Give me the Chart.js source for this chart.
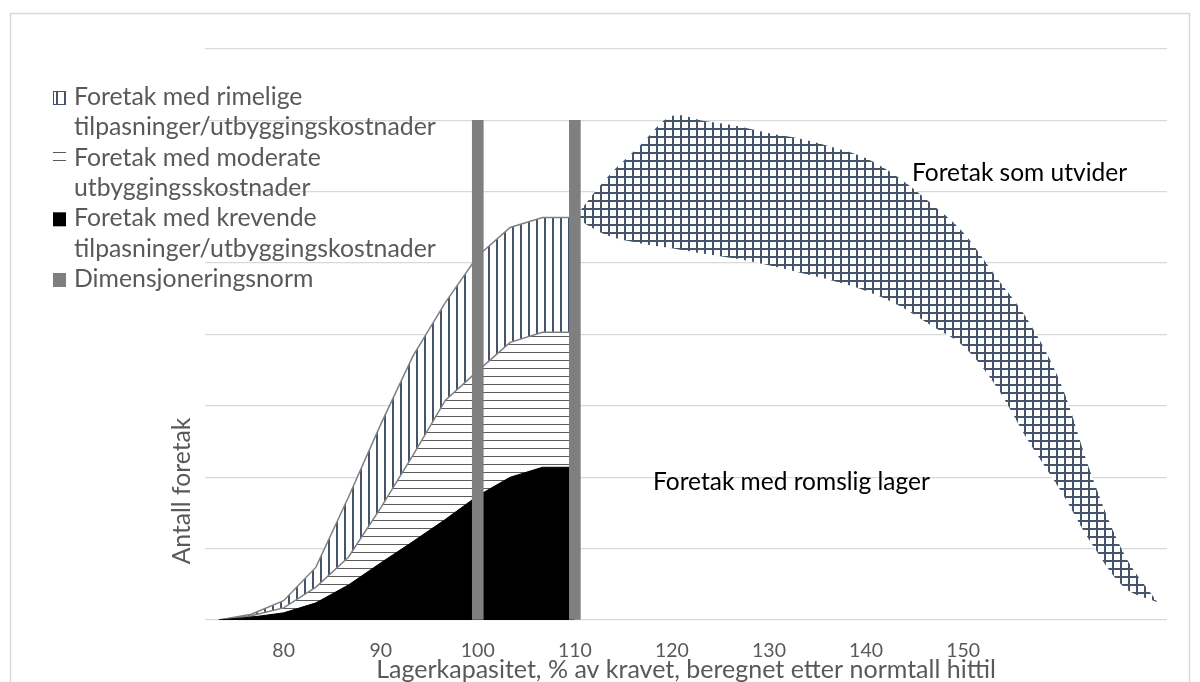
<!DOCTYPE html>
<html>
<head>
<meta charset="utf-8">
<title>Lagerkapasitet</title>
<script src="https://cdn.jsdelivr.net/npm/chart.js@4.4.1/dist/chart.umd.min.js"></script>
<style>
  html, body { margin: 0; padding: 0; background: #fff; overflow: hidden; }
  canvas { display: block; }
</style>
</head>
<body>
<canvas id="chart" width="1200" height="682"></canvas>
<script>
// Lagerkapasitet (% av kravet) langs x, antall foretak langs y.
const xTicks = [80, 90, 100, 110, 120, 130, 140, 150];

// Foretak under / rundt normen (stablet)
const xLeft     = [73.33, 76.67, 80, 83.33, 86.67, 90, 93.33, 96.67, 100, 103.33, 106.67, 110];
const krevende  = [0, 0.04, 0.10, 0.24, 0.49, 0.80, 1.10, 1.41, 1.74, 2.00, 2.14, 2.14];
const moderate  = [0, 0.02, 0.07, 0.22, 0.39, 0.77, 1.21, 1.67, 1.75, 1.89, 1.89, 1.89];
const rimelige  = [0, 0.02, 0.10, 0.28, 0.84, 1.17, 1.39, 1.37, 1.61, 1.61, 1.61, 1.61];

// Foretak over normen (stablet)
const xRight    = [110, 113.33, 116.67, 120, 123.33, 126.67, 130, 133.33, 136.67, 140, 143.33, 146.67, 150, 153.33, 156.67, 160, 163.33, 166.67, 170];
const romslig   = [5.64, 5.39, 5.28, 5.21, 5.13, 5.06, 4.97, 4.86, 4.75, 4.61, 4.41, 4.13, 3.84, 3.29, 2.52, 1.82, 1.05, 0.45, 0.25];
const utvider   = [0, 0.81, 1.36, 1.85, 1.86, 1.86, 1.85, 1.88, 1.87, 1.86, 1.79, 1.71, 1.59, 1.53, 1.68, 1.51, 0.94, 0.45, 0];

// Dimensjoneringsnorm
const normX     = [100, 110];
const normY     = [7, 7];

const seriesLabels = {
  krevende: 'Foretak med krevende tilpasninger/utbyggingskostnader',
  moderate: 'Foretak med moderate utbyggingsskostnader',
  rimelige: 'Foretak med rimelige tilpasninger/utbyggingskostnader',
  romslig:  'Foretak med romslig lager',
  utvider:  'Foretak som utvider',
  norm:     'Dimensjoneringsnorm'
};
const xTitle = 'Lagerkapasitet, % av kravet, beregnet etter normtall hittil';
const yTitle = 'Antall foretak';

const FAMILY = 'Lato, "Open Sans", "DejaVu Sans", sans-serif';
const TEXT_GREY = '#595959';

// font size that gives a string a given width
const measureCtx = document.createElement('canvas').getContext('2d');
function sizeFor(text, width) {
  measureCtx.font = '100px ' + FAMILY;
  return Math.round(1000 * width / measureCtx.measureText(text).width) / 10;
}
const legendSize = sizeFor('tilpasninger/utbyggingskostnader', 362);
const tickSize   = sizeFor('100', 34);
const titleSize  = sizeFor(xTitle, 619);
const yTitleSize = sizeFor(yTitle, 147);
const noteSize   = sizeFor(seriesLabels.utvider, 215);

const canvas = document.getElementById('chart');
const ctx = canvas.getContext('2d');

function makePattern(paint) {
  const tile = document.createElement('canvas');
  tile.width = 8; tile.height = 8;
  const g = tile.getContext('2d');
  g.fillStyle = '#ffffff';
  g.fillRect(0, 0, 8, 8);
  paint(g);
  return ctx.createPattern(tile, 'repeat');
}
const vertPattern  = makePattern(g => { g.fillStyle = '#44546a'; g.fillRect(0, 0, 2, 8); });
const horizPattern = makePattern(g => { g.fillStyle = '#5a5a5a'; g.fillRect(0, 0, 8, 1); });
const crossPattern = makePattern(g => { g.fillStyle = '#44546a'; g.fillRect(0, 0, 2, 8); g.fillRect(0, 0, 8, 2); });

const pts = (xs, ys) => xs.map((x, i) => ({ x, y: ys[i] }));

const datasets = [
  { label: seriesLabels.krevende, data: pts(xLeft, krevende), stack: 'under', fill: 'origin',
    backgroundColor: '#000000', borderColor: '#000000', borderWidth: 1, tension: 0, order: 1 },
  { label: seriesLabels.moderate, data: pts(xLeft, moderate), stack: 'under', fill: '-1',
    backgroundColor: horizPattern, borderColor: '#7f7f7f', borderWidth: 1.5, tension: 0, order: 1 },
  { label: seriesLabels.rimelige, data: pts(xLeft, rimelige), stack: 'under', fill: '-1',
    backgroundColor: vertPattern, borderColor: '#7f7f7f', borderWidth: 1.5, tension: 0, order: 1 },
  { label: seriesLabels.romslig, data: pts(xRight, romslig), stack: 'over', fill: false,
    backgroundColor: 'rgba(0,0,0,0)', borderColor: 'rgba(0,0,0,0)', borderWidth: 0, tension: 0.35, order: 1 },
  { label: seriesLabels.utvider, data: pts(xRight, utvider), stack: 'over', fill: '-1',
    backgroundColor: crossPattern, borderColor: 'rgba(0,0,0,0)', borderWidth: 0, tension: 0.35, order: 1 },
  { type: 'bar', label: seriesLabels.norm, data: pts(normX, normY), stack: 'norm',
    backgroundColor: '#7f7f7f', borderWidth: 0, barThickness: 11, order: 0 }
];

const legendEntries = [2, 1, 0, 5];

function wrap(g, text, maxW) {
  const words = text.split(' ');
  const lines = [];
  let cur = '';
  for (const w of words) {
    const t = cur ? cur + ' ' + w : w;
    if (cur && g.measureText(t).width > maxW) { lines.push(cur); cur = w; }
    else cur = t;
  }
  if (cur) lines.push(cur);
  return lines;
}

const decorations = {
  id: 'decorations',
  beforeDraw(chart) {
    const g = chart.ctx;
    g.save();
    g.fillStyle = '#ffffff';
    g.fillRect(0, 0, chart.width, chart.height);
    g.strokeStyle = '#d9d9d9';
    g.lineWidth = 1.5;
    g.strokeRect(10.5, 13.5, 1179, 700);
    g.restore();
  },
  afterDraw(chart) {
    const g = chart.ctx;
    const area = chart.chartArea;
    g.save();

    // axis titles
    g.fillStyle = TEXT_GREY;
    g.font = titleSize + 'px ' + FAMILY;
    g.textAlign = 'center';
    g.textBaseline = 'alphabetic';
    g.fillText(xTitle, (area.left + area.right) / 2, 678);

    g.save();
    g.translate(190, 491);
    g.rotate(-Math.PI / 2);
    g.font = yTitleSize + 'px ' + FAMILY;
    g.fillText(yTitle, 0, 0);
    g.restore();

    // labels for the two regions right of the norm
    g.fillStyle = '#000000';
    g.font = noteSize + 'px ' + FAMILY;
    g.textAlign = 'left';
    g.fillText(seriesLabels.utvider, 912, 181);
    g.fillText(seriesLabels.romslig, 653, 490);

    // legend
    g.font = legendSize + 'px ' + FAMILY;
    let base = 105;
    const step = 30.33;
    for (const idx of legendEntries) {
      const ds = chart.data.datasets[idx];
      g.fillStyle = ds.backgroundColor;
      g.fillRect(53, base - 14, 13, 14);
      if (idx === 2) {
        g.strokeStyle = '#44546a';
        g.lineWidth = 1;
        g.strokeRect(53.5, base - 13.5, 12, 13);
      }
      g.fillStyle = TEXT_GREY;
      for (const line of wrap(g, ds.label, 372)) {
        g.fillText(line, 74, base);
        base += step;
      }
    }
    g.restore();
  }
};

new Chart(canvas, {
  type: 'line',
  data: { datasets },
  plugins: [decorations],
  options: {
    responsive: false,
    animation: false,
    devicePixelRatio: 1,
    layout: { padding: { left: 205, right: 33, top: 49, bottom: 0 } },
    elements: { point: { radius: 0, hoverRadius: 0 } },
    plugins: { legend: { display: false }, tooltip: { enabled: false } },
    scales: {
      x: {
        type: 'linear',
        offset: false,
        min: 71.9,
        max: 171,
        grid: { display: false, drawTicks: false, offset: false },
        border: { display: false },
        afterBuildTicks: scale => { scale.ticks = xTicks.map(v => ({ value: v })); },
        afterFit: scale => { scale.height = 62; },
        ticks: {
          color: TEXT_GREY,
          font: { family: FAMILY, size: tickSize },
          padding: 30.5 - 0.6 * tickSize,
          maxRotation: 0,
          autoSkip: false,
          callback: v => String(v)
        }
      },
      y: {
        stacked: true,
        min: 0,
        max: 8,
        grid: { color: '#d9d9d9', lineWidth: 1.3, drawTicks: false },
        border: { display: false },
        ticks: { display: false, stepSize: 1 },
        afterFit: scale => { scale.width = 0; }
      }
    }
  }
});
</script>
</body>
</html>
